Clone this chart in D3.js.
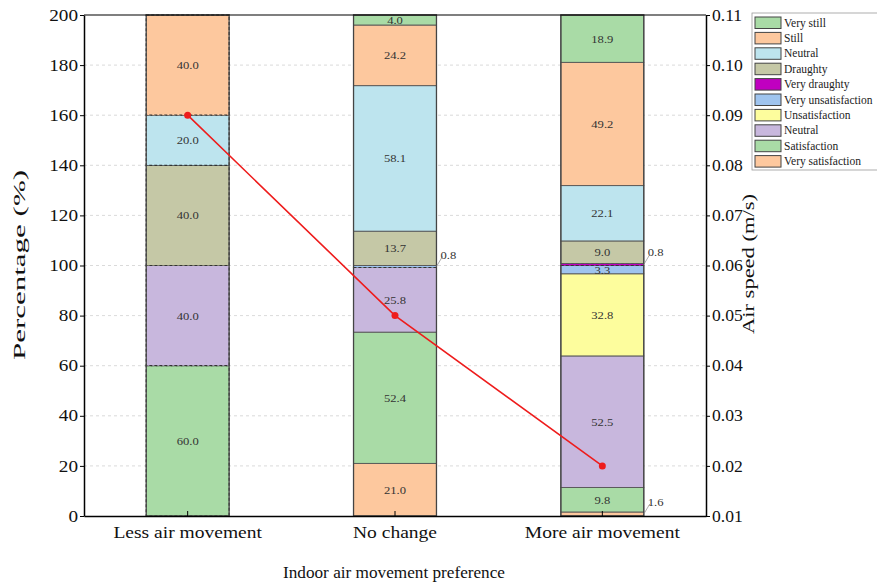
<!DOCTYPE html>
<html>
<head>
<meta charset="utf-8">
<script src="https://cdn.jsdelivr.net/npm/d3@7"></script>
<style>
  body { margin: 0; background: #fff; }
  svg, svg text { font-family: "Liberation Serif", "Times New Roman", Times, serif !important; }
</style>
</head>
<body>
<div id="chart"></div>
<script>
// categories on the x axis
const categories = ["Less air movement", "No change", "More air movement"];

// stack order, bottom to top
const seriesNames = [
  "Very satisfaction", "Satisfaction", "Neutral", "Unsatisfaction", "Very unsatisfaction",
  "Very draughty", "Draughty", "Neutral ", "Still", "Very still"
];
const seriesColors = [
  "#fdc89e", "#a9dba6", "#c8b7dd", "#fdfd9d", "#9fc4ef",
  "#c000c0", "#c5c8a6", "#bde4ee", "#fdc89e", "#a9dba6"
];

// percentage values per series, one per category
const seriesValues = [
  [0, 21.0, 1.6],    // Very satisfaction
  [60.0, 52.4, 9.8], // Satisfaction
  [40.0, 25.8, 52.5],// Neutral
  [0, 0, 32.8],      // Unsatisfaction
  [0, 0.8, 3.3],     // Very unsatisfaction
  [0, 0, 0.8],       // Very draughty
  [40.0, 13.7, 9.0], // Draughty
  [20.0, 58.1, 22.1],// Neutral (air)
  [40.0, 24.2, 49.2],// Still
  [0, 4.0, 18.9]     // Very still
];

// mean air speed per category (m/s)
const airSpeed = [0.09, 0.05, 0.02];

const leftTicks = [0, 20, 40, 60, 80, 100, 120, 140, 160, 180, 200];
const rightTicks = [0.01, 0.02, 0.03, 0.04, 0.05, 0.06, 0.07, 0.08, 0.09, 0.10, 0.11];

const width = 877, height = 586;
const margin = { top: 15, right: 171, bottom: 70, left: 84 };
const plotRight = width - margin.right;
const plotBottom = height - margin.bottom;
const serif = '"Liberation Serif", "Times New Roman", serif';

// the source figure's text is horizontally stretched
function stretch(sel, factor) {
  sel.each(function () {
    const len = this.getComputedTextLength();
    d3.select(this)
      .attr("textLength", len * factor)
      .attr("lengthAdjust", "spacingAndGlyphs");
  });
}

const svg = d3.select("#chart").append("svg")
  .attr("width", width)
  .attr("height", height)
  .attr("font-family", serif);

const x = d3.scaleBand()
  .domain(categories)
  .range([margin.left, plotRight])
  .paddingInner(0.6)
  .paddingOuter(0.3);

const y = d3.scaleLinear().domain([0, 200]).range([plotBottom, margin.top]);
const y2 = d3.scaleLinear().domain([0.01, 0.11]).range([plotBottom, margin.top]);

// grid
svg.append("g")
  .selectAll("line")
  .data(leftTicks.filter(d => d > 0 && d < 200))
  .join("line")
  .attr("x1", margin.left).attr("x2", plotRight)
  .attr("y1", d => y(d)).attr("y2", d => y(d))
  .attr("stroke", "#d0d0d0")
  .attr("stroke-dasharray", "3,3")
  .attr("stroke-width", 0.8);

// stacked data
const rows = categories.map((c, i) => {
  const r = { cat: c };
  seriesNames.forEach((s, j) => r[s] = seriesValues[j][i]);
  return r;
});
const stack = d3.stack().keys(seriesNames)(rows);

const barsG = svg.append("g");
stack.forEach((layer, j) => {
  layer.forEach((seg, i) => {
    const v = seg[1] - seg[0];
    if (v <= 0) return;
    const dashed = i === 0 || v < 1;
    barsG.append("rect")
      .attr("x", x(categories[i]))
      .attr("width", x.bandwidth())
      .attr("y", y(seg[1]))
      .attr("height", y(seg[0]) - y(seg[1]))
      .attr("fill", seriesColors[j])
      .attr("stroke", dashed ? "#333" : "#555")
      .attr("stroke-width", dashed ? 1.2 : 0.9)
      .attr("stroke-dasharray", dashed ? "3,2" : null);
  });
});

// bar outlines
categories.forEach((c, i) => {
  const total = d3.sum(seriesValues, s => s[i]);
  barsG.append("rect")
    .attr("x", x(c)).attr("width", x.bandwidth())
    .attr("y", y(total)).attr("height", y(0) - y(total))
    .attr("fill", "none")
    .attr("stroke", "#444")
    .attr("stroke-width", 1.3);
});

// segment labels
const labelsG = svg.append("g")
  .style("font-size", "10.5px")
  .attr("fill", "#333");
stack.forEach((layer, j) => {
  layer.forEach((seg, i) => {
    const v = seg[1] - seg[0];
    if (v <= 0) return;
    const txt = v.toFixed(1);
    const xr = x(categories[i]) + x.bandwidth();
    if (v < 2) {
      const ym = y((seg[0] + seg[1]) / 2);
      labelsG.append("line")
        .attr("x1", xr).attr("y1", ym)
        .attr("x2", xr + 6).attr("y2", ym - 10)
        .attr("stroke", "#888").attr("stroke-width", 0.7);
      labelsG.append("text")
        .attr("x", xr + 4).attr("y", ym - 8)
        .text(txt);
    } else {
      labelsG.append("text")
        .attr("x", x(categories[i]) + x.bandwidth() / 2)
        .attr("y", y((seg[0] + seg[1]) / 2) + 4)
        .attr("text-anchor", "middle")
        .text(txt);
    }
  });
});
stretch(labelsG.selectAll("text"), 1.2);

// frame
svg.append("line")
  .attr("x1", margin.left).attr("x2", plotRight)
  .attr("y1", margin.top).attr("y2", margin.top)
  .attr("stroke", "#000").attr("stroke-width", 1.2);

// axes
const axisFont = factor => g => {
  g.attr("font-family", serif).attr("font-size", 16)
    .selectAll("text").attr("fill", "#111");
  stretch(g.selectAll("text"), factor);
};

svg.append("g")
  .attr("transform", `translate(${margin.left},0)`)
  .call(d3.axisLeft(y).tickValues(leftTicks).tickSize(4).tickSizeOuter(0).tickPadding(2))
  .call(g => g.select(".domain").attr("stroke-width", 1.5))
  .call(axisFont(1.2));

svg.append("g")
  .attr("transform", `translate(${plotRight},0)`)
  .call(d3.axisRight(y2).tickValues(rightTicks).tickFormat(d3.format(".2f")).tickSize(4).tickSizeOuter(0).tickPadding(2))
  .call(g => g.select(".domain").attr("stroke-width", 1.5))
  .call(axisFont(1.1));

svg.append("g")
  .attr("transform", `translate(0,${plotBottom})`)
  .call(d3.axisBottom(x).tickSize(-5).tickSizeOuter(0).tickPadding(11))
  .call(g => g.select(".domain").attr("stroke-width", 1.5))
  .call(axisFont(1.22));

// air speed line
const line = d3.line()
  .x((d, i) => x(categories[i]) + x.bandwidth() / 2)
  .y(d => y2(d));
svg.append("path")
  .datum(airSpeed)
  .attr("d", line)
  .attr("fill", "none")
  .attr("stroke", "#ee1c1c")
  .attr("stroke-width", 1.6);
svg.append("g")
  .selectAll("circle")
  .data(airSpeed)
  .join("circle")
  .attr("cx", (d, i) => x(categories[i]) + x.bandwidth() / 2)
  .attr("cy", d => y2(d))
  .attr("r", 3.5)
  .attr("fill", "#ee1c1c");

// axis titles
svg.append("text")
  .attr("transform", "translate(25,265) rotate(-90)")
  .attr("text-anchor", "middle")
  .style("font-size", "16.5px")
  .attr("fill", "#111")
  .text("Percentage (%)")
  .attr("textLength", 190)
  .attr("lengthAdjust", "spacingAndGlyphs");

svg.append("text")
  .attr("transform", "translate(754,264) rotate(-90)")
  .attr("text-anchor", "middle")
  .style("font-size", "16.5px")
  .attr("fill", "#111")
  .text("Air speed (m/s)")
  .attr("textLength", 140)
  .attr("lengthAdjust", "spacingAndGlyphs");

svg.append("text")
  .attr("x", 394)
  .attr("y", 578)
  .attr("text-anchor", "middle")
  .style("font-size", "16.5px")
  .attr("fill", "#111")
  .text("Indoor air movement preference")
  .attr("textLength", 222)
  .attr("lengthAdjust", "spacingAndGlyphs");

// legend (top of stack first)
const legend = svg.append("g").attr("transform", "translate(752,13)");
legend.append("rect")
  .attr("width", 140).attr("height", 157)
  .attr("fill", "#fff").attr("stroke", "#999").attr("stroke-width", 0.8);
const legendOrder = d3.range(seriesNames.length).reverse();
legendOrder.forEach((j, k) => {
  const g = legend.append("g").attr("transform", `translate(3,${4 + k * 15.4})`);
  g.append("rect")
    .attr("width", 26).attr("height", 11.5)
    .attr("fill", seriesColors[j])
    .attr("stroke", "#444").attr("stroke-width", 1);
  g.append("text")
    .attr("x", 29).attr("y", 9.5)
    .style("font-size", "11.5px")
    .attr("fill", "#222")
    .text(seriesNames[j].trim());
});
</script>
</body>
</html>
